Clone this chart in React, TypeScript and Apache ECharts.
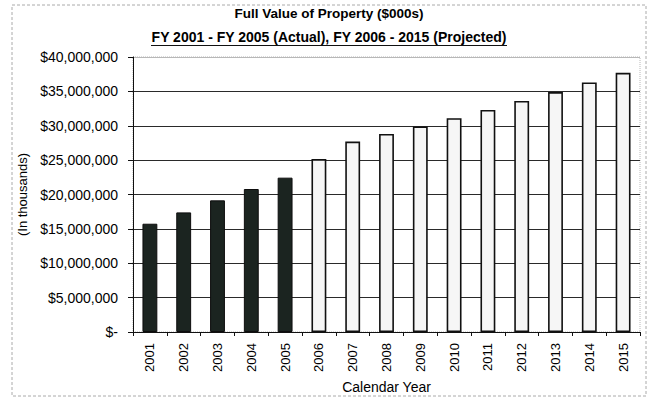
import React, { useEffect, useRef } from "react";
import * as echarts from "echarts";

const years = ["2001","2002","2003","2004","2005","2006","2007","2008","2009","2010","2011","2012","2013","2014","2015"];
const actualValues = [15750000, 17400000, 19150000, 20800000, 22450000];
const projectedValues = [25150000, 27700000, 28800000, 29900000, 31100000, 32300000, 33600000, 34900000, 36300000, 37700000];
const titleText = "Full Value of Property ($000s)";
const subtitleText = "FY 2001 - FY 2005 (Actual), FY 2006 - 2015 (Projected)";
const yTicks = { min: 0, max: 40000000, interval: 5000000 };

const FONT = "'Liberation Sans', Arial, sans-serif";

export default function App() {
  const ref = useRef<HTMLDivElement>(null);
  useEffect(() => {
    if (!ref.current) return;
    const chart = echarts.init(ref.current, undefined, { renderer: "svg" });
    const actualData = years.map((_, i) => (i < actualValues.length ? actualValues[i] : null));
    const projData = years.map((_, i) =>
      i >= actualValues.length ? projectedValues[i - actualValues.length] : null
    );
    const nLines = (yTicks.max - yTicks.min) / yTicks.interval + 1;
    const splitColors = Array.from({ length: nLines }, (_, i) => (i === nLines - 1 ? "#b8b8b8" : "#2a2a2a"));
    chart.setOption({
      animation: false,
      backgroundColor: "#ffffff",
      textStyle: { fontFamily: FONT },
      grid: {
        left: 133, right: 8, top: 57, bottom: 70,
        show: true, borderColor: "#b8b8b8", borderWidth: 1, borderType: "dotted",
      },
      graphic: [
        {
          type: "rect", shape: { x: 12, y: 5, width: 634, height: 391 },
          style: { fill: "none", stroke: "#aaaaaa", lineWidth: 1, lineDash: [3, 2] }, z: -1,
        },
        {
          type: "text", x: 329, y: 13,
          style: { text: titleText, font: `bold 13.5px ${FONT}`, fill: "#000", align: "center", verticalAlign: "middle" },
        },
        {
          type: "text", x: 329, y: 37,
          style: { text: subtitleText, font: `bold 14px ${FONT}`, fill: "#000", align: "center", verticalAlign: "middle" },
        },
        {
          type: "line", shape: { x1: 151, y1: 45.5, x2: 507, y2: 45.5 },
          style: { stroke: "#111", lineWidth: 1.2 },
        },
      ],
      xAxis: {
        type: "category",
        data: years,
        name: "Calendar Year",
        nameLocation: "middle",
        nameGap: 47,
        nameTextStyle: { fontSize: 14, color: "#000", fontFamily: FONT },
        axisLine: { lineStyle: { color: "#111", width: 1 } },
        axisTick: { show: true, length: 4, lineStyle: { color: "#111" } },
        axisLabel: { rotate: 90, fontSize: 13, color: "#000", margin: 11, fontFamily: FONT },
        splitLine: { show: false },
      },
      yAxis: {
        type: "value",
        min: yTicks.min, max: yTicks.max, interval: yTicks.interval,
        name: "(In thousands)",
        nameLocation: "middle",
        nameGap: 97,
        nameTextStyle: { fontSize: 13, color: "#000", fontFamily: FONT },
        axisLine: { show: true, lineStyle: { color: "#111", width: 1 } },
        axisTick: { show: true, length: 5, lineStyle: { color: "#111" } },
        axisLabel: {
          fontSize: 14, color: "#000", margin: 15, fontFamily: FONT,
          formatter: (v: number) => (v === 0 ? "$-" : "$" + v.toLocaleString("en-US")),
        },
        splitLine: { show: true, lineStyle: { color: splitColors, width: 1 } },
      },
      series: [
        {
          name: "Actual", type: "bar", data: actualData, barWidth: "44%", barGap: "-100%",
          itemStyle: { color: "#1b2420", borderColor: "#0d0d0d", borderWidth: 1 },
        },
        {
          name: "Projected", type: "bar", data: projData, barWidth: "44%",
          itemStyle: { color: "#f6f6f6", borderColor: "#111", borderWidth: 1.6 },
        },
      ],
    });
    return () => chart.dispose();
  }, []);
  return <div ref={ref} style={{ position: "fixed", left: 0, top: 0, width: 648, height: 402 }} />;
}
